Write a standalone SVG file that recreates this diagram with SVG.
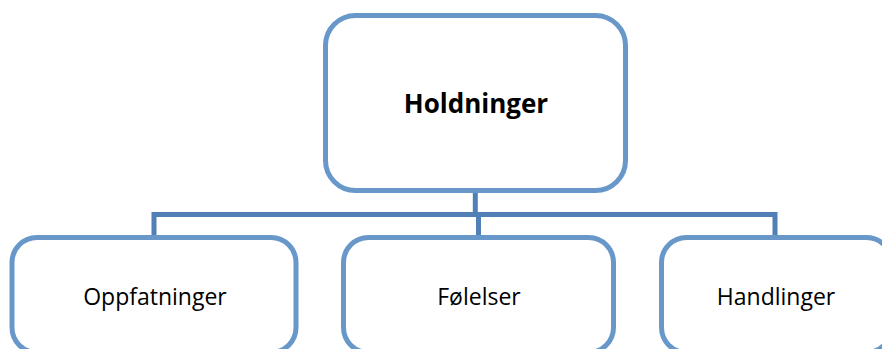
<svg xmlns="http://www.w3.org/2000/svg" width="882" height="349" viewBox="0 0 882 349">
<style>
.box{fill:#ffffff;stroke:#6898CA;stroke-width:5}
.conn{fill:none;stroke:#5080B5;stroke-width:5;stroke-linejoin:miter}
.lbl{font-family:"Open Sans","Noto Sans",sans-serif;font-size:23px;fill:#000;text-anchor:middle}
.title{font-family:"Open Sans","Noto Sans",sans-serif;font-size:26px;font-weight:bold;fill:#000;text-anchor:middle}
</style>
<rect width="882" height="349" fill="#ffffff"/>
<g id="connectors">
<path class="conn" d="M475.3 192 V214.5"/>
<path class="conn" d="M154 237 V214.5 H775 V237"/>
<path class="conn" d="M478.5 214.5 V237"/>
</g>
<g id="holdninger">
<rect class="box" x="325.5" y="15.5" width="300" height="175" rx="30" ry="30"/>
<text class="title" x="476" y="113">Holdninger</text>
</g>
<g id="oppfatninger">
<rect class="box" x="12" y="237.5" width="284" height="115" rx="25" ry="25"/>
<text class="lbl" x="155" y="305">Oppfatninger</text>
</g>
<g id="folelser">
<rect class="box" x="343.5" y="237.5" width="270" height="115" rx="25" ry="25"/>
<text class="lbl" x="479" y="305">Følelser</text>
</g>
<g id="handlinger">
<rect class="box" x="661.5" y="237.5" width="230" height="115" rx="25" ry="25"/>
<text class="lbl" x="776" y="305">Handlinger</text>
</g>
</svg>
